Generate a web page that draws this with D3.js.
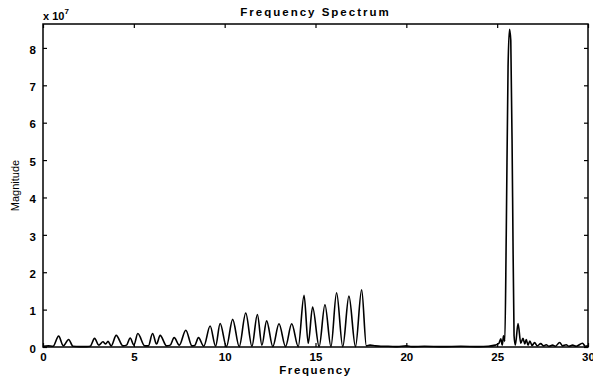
<!DOCTYPE html>
<html>
<head>
<meta charset="utf-8">
<script src="https://cdn.jsdelivr.net/npm/d3@7"></script>
<style>
  body { margin: 0; background: #fff; }
  text { font-family: "Liberation Sans", Arial, sans-serif; fill: #000; }
</style>
</head>
<body>
<div id="chart"></div>
<script>
// spectrum samples (magnitude in units of 1e7)
const freq = [0.0, 0.3, 0.55, 0.86, 1.12, 1.41, 1.65, 2.0, 2.4, 2.6, 2.84, 3.07, 3.3, 3.45, 3.58, 3.75, 4.03, 4.4, 4.6, 4.8,
  5.0, 5.22, 5.6, 5.8, 6.03, 6.25, 6.45, 6.8, 7.0, 7.22, 7.5, 7.86, 8.2, 8.35, 8.56, 8.85, 9.2, 9.5, 9.75, 10.1,
  10.44, 10.8, 11.16, 11.5, 11.8, 12.05, 12.31, 12.65, 12.99, 13.35, 13.69, 14.05, 14.37, 14.6, 14.84, 15.2, 15.52, 15.85, 16.16, 16.5,
  16.84, 17.2, 17.54, 17.8, 18.0, 18.3, 18.6, 19.0, 19.5, 20.0, 20.3, 21.0, 22.0, 23.0, 24.0, 24.5, 24.9, 25.1, 25.2, 25.28,
  25.35, 25.42, 25.5, 25.6, 25.68, 25.75, 25.85, 25.93, 26.0, 26.15, 26.3, 26.42, 26.52, 26.6, 26.7, 26.8, 26.92, 27.06, 27.2, 27.4,
  27.55, 27.7, 27.85, 28.05, 28.2, 28.44, 28.6, 28.8, 28.95, 29.15, 29.35, 29.7, 29.85, 30.0];
const magnitude = [0.02, 0.03, 0.02, 0.29, 0.03, 0.2, 0.02, 0.01, 0.01, 0.02, 0.23, 0.05, 0.14, 0.08, 0.15, 0.03, 0.31, 0.03, 0.05, 0.24,
  0.05, 0.36, 0.03, 0.03, 0.36, 0.08, 0.31, 0.03, 0.05, 0.25, 0.05, 0.45, 0.03, 0.04, 0.25, 0.02, 0.56, 0.02, 0.63, 0.01,
  0.74, 0.01, 0.91, 0.02, 0.87, 0.05, 0.70, 0.01, 0.62, 0.01, 0.62, 0.01, 1.38, 0.1, 1.07, 0.01, 1.13, 0.01, 1.45, 0.01,
  1.36, 0.01, 1.53, 0.03, 0.05, 0.03, 0.02, 0.02, 0.01, 0.03, 0.01, 0.02, 0.01, 0.02, 0.01, 0.02, 0.05, 0.1, 0.22, 0.05,
  0.3, 0.15, 3.0, 7.5, 8.5, 8.2, 4.0, 0.3, 0.05, 0.63, 0.1, 0.23, 0.08, 0.2, 0.05, 0.16, 0.04, 0.12, 0.03, 0.09,
  0.03, 0.06, 0.02, 0.05, 0.02, 0.12, 0.03, 0.06, 0.02, 0.05, 0.02, 0.1, 0.02, 0.03];
const xTicks = [0, 5, 10, 15, 20, 25, 30];
const yTicks = [0, 1, 2, 3, 4, 5, 6, 7, 8];

const width = 593, height = 378;
const margin = { top: 24, right: 5, bottom: 31, left: 43 };

const svg = d3.select("#chart").append("svg")
  .attr("width", width)
  .attr("height", height);

const x = d3.scaleLinear().domain([0, 30]).range([margin.left, width - margin.right]);
const y = d3.scaleLinear().domain([0, 8.64]).range([height - margin.bottom, margin.top]);

const data = freq.map((f, i) => ({ f: f, m: magnitude[i] }));

// spectrum line
svg.append("path")
  .datum(data)
  .attr("fill", "none")
  .attr("stroke", "#000")
  .attr("stroke-width", 1.6)
  .attr("stroke-linejoin", "round")
  .attr("d", d3.line()
    .x(d => x(d.f))
    .y(d => y(d.m))
    .curve(d3.curveMonotoneX));

// axes, ticks pointing inward like matlab
const tickLen = 4;
const xAxis = svg.append("g")
  .attr("transform", "translate(0," + (height - margin.bottom) + ")")
  .call(d3.axisBottom(x).tickValues(xTicks).tickSizeInner(-tickLen).tickSizeOuter(0).tickPadding(6));
const xTop = svg.append("g")
  .attr("transform", "translate(0," + margin.top + ")")
  .call(d3.axisTop(x).tickValues(xTicks).tickSizeInner(-tickLen).tickSizeOuter(0).tickFormat(""));
const yAxis = svg.append("g")
  .attr("transform", "translate(" + margin.left + ",0)")
  .call(d3.axisLeft(y).tickValues(yTicks).tickSizeInner(-tickLen).tickSizeOuter(0).tickPadding(7));
const yRight = svg.append("g")
  .attr("transform", "translate(" + (width - margin.right) + ",0)")
  .call(d3.axisRight(y).tickValues(yTicks).tickSizeInner(-tickLen).tickSizeOuter(0).tickFormat(""));

[xAxis, xTop, yAxis, yRight].forEach(g => {
  g.select(".domain").remove();
  g.selectAll("line").attr("stroke", "#000").attr("stroke-width", 1.2);
  g.selectAll("text")
    .style("font-family", "'Liberation Sans', Arial, sans-serif")
    .style("font-size", "11.5px")
    .style("font-weight", "bold")
    .attr("fill", "#000");
});
yAxis.selectAll("text").attr("dy", "0.45em");

// box
svg.append("rect")
  .attr("x", margin.left)
  .attr("y", margin.top)
  .attr("width", width - margin.left - margin.right)
  .attr("height", height - margin.top - margin.bottom)
  .attr("fill", "none")
  .attr("stroke", "#000")
  .attr("stroke-width", 1.5);

// title and labels
svg.append("text")
  .attr("x", (margin.left + width - margin.right) / 2)
  .attr("y", 16)
  .attr("text-anchor", "middle")
  .style("font-size", "11.5px")
  .style("font-weight", "bold")
  .style("letter-spacing", "2px")
  .text("Frequency Spectrum");

const expo = svg.append("text")
  .attr("x", margin.left)
  .attr("y", 20)
  .style("font-size", "11px")
  .style("font-weight", "bold");
expo.append("tspan").text("x 10");
expo.append("tspan").attr("dy", -6).style("font-size", "8px").text("7");

svg.append("text")
  .attr("x", (margin.left + width - margin.right) / 2)
  .attr("y", 374)
  .attr("text-anchor", "middle")
  .style("font-size", "11.5px")
  .style("font-weight", "bold")
  .style("letter-spacing", "1.6px")
  .text("Frequency");

svg.append("text")
  .attr("transform", "translate(19," + ((margin.top + height - margin.bottom) / 2) + ") rotate(-90)")
  .attr("text-anchor", "middle")
  .style("font-size", "11px")
  .style("font-family", "'Liberation Sans Narrow', 'Liberation Sans', Arial, sans-serif")
  .text("Magnitude");
</script>
</body>
</html>
